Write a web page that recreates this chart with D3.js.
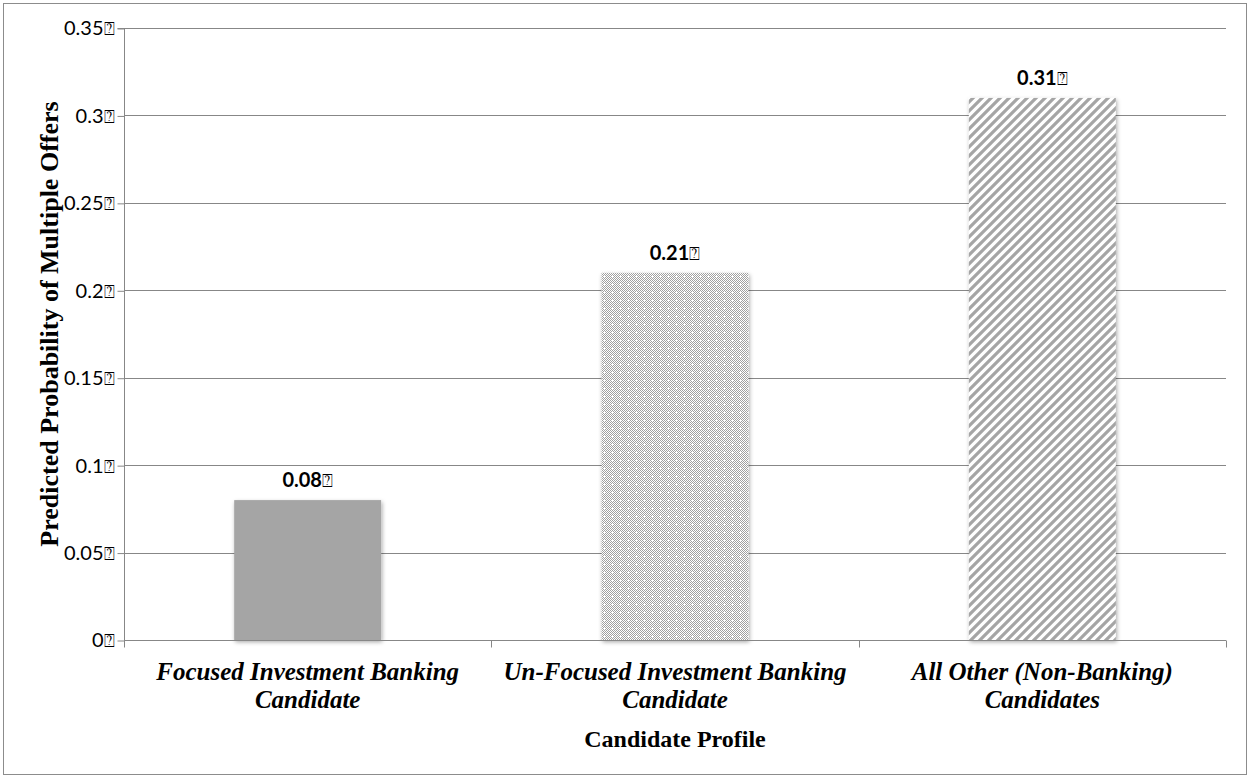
<!DOCTYPE html>
<html>
<head>
<meta charset="utf-8">
<script src="https://cdn.jsdelivr.net/npm/d3@7"></script>
<style>
  html, body { margin: 0; padding: 0; background: #ffffff; }
  svg { display: block; }
</style>
</head>
<body>
<svg id="chart" width="1250" height="777"></svg>
<script>
// Predicted probability of receiving multiple offers, by candidate profile
const categories = [
  ["Focused Investment Banking", "Candidate"],
  ["Un-Focused Investment Banking", "Candidate"],
  ["All Other (Non-Banking)", "Candidates"]
];
const values = [0.08, 0.21, 0.31];
const valueLabels = ["0.08", "0.21", "0.31"];
const tickValues = [0, 0.05, 0.1, 0.15, 0.2, 0.25, 0.3, 0.35];
const tickLabels = ["0", "0.05", "0.1", "0.15", "0.2", "0.25", "0.3", "0.35"];
const fills = ["solid", "grid", "stripes"];
const yTitle = "Predicted Probability of Multiple Offers";
const xTitle = "Candidate Profile";
const BOX = "\u2370";

const W = 1250, H = 777;
const plot = { left: 124, right: 1226, top: 28, bottom: 640 };
const GRID = "#878787";
const BAR = "#a5a5a5";
const SERIF = "'Liberation Serif', 'Times New Roman', serif";
const SANS = "Lato, 'Open Sans', sans-serif";

const svg = d3.select("#chart");
const defs = svg.append("defs");

// Soft shadow under the bars
const shadow = defs.append("filter").attr("id", "shadow")
  .attr("x", "-10%").attr("y", "-10%").attr("width", "130%").attr("height", "130%");
shadow.append("feDropShadow")
  .attr("dx", 1).attr("dy", 2).attr("stdDeviation", 2)
  .attr("flood-color", "#000").attr("flood-opacity", 0.35);

// Fine checker with white dots
const grid = defs.append("pattern").attr("id", "grid")
  .attr("patternUnits", "userSpaceOnUse").attr("width", 8).attr("height", 8);
grid.append("rect").attr("width", 8).attr("height", 8).attr("fill", "#ffffff");
for (let yy = 0; yy < 8; yy++) {
  for (let xx = 0; xx < 8; xx++) {
    if ((xx + yy) % 2 === 0) {
      grid.append("rect").attr("x", xx).attr("y", yy).attr("width", 1).attr("height", 1).attr("fill", "#a0a0a0");
    }
  }
}
grid.append("rect").attr("x", 3).attr("y", 4).attr("width", 3).attr("height", 1).attr("fill", "#ffffff");
grid.append("rect").attr("x", 4).attr("y", 3).attr("width", 1).attr("height", 3).attr("fill", "#ffffff");

// Upward diagonal stripes
const stripes = defs.append("pattern").attr("id", "stripes")
  .attr("patternUnits", "userSpaceOnUse").attr("width", 9).attr("height", 9);
stripes.append("rect").attr("width", 9).attr("height", 9).attr("fill", "#ffffff");
stripes.append("path")
  .attr("d", "M-2,2 L2,-2 M0,9 L9,0 M7,11 L11,7")
  .attr("stroke", BAR).attr("stroke-width", 3.2).attr("fill", "none");

// Outer frame
svg.append("rect")
  .attr("x", 3.5).attr("y", 3.5).attr("width", W - 7).attr("height", H - 6)
  .attr("fill", "#ffffff").attr("stroke", "#8c8c8c").attr("stroke-width", 1);

const x = d3.scaleBand()
  .domain(d3.range(categories.length))
  .range([plot.left, plot.right])
  .paddingInner(0).paddingOuter(0);

const y = d3.scaleLinear().domain([0, 0.35]).range([plot.bottom, plot.top]);

// Horizontal gridlines
svg.append("g").selectAll("line")
  .data(tickValues.filter(d => d > 0))
  .join("line")
  .attr("x1", plot.left).attr("x2", plot.right)
  .attr("y1", d => Math.round(y(d)) + 0.5).attr("y2", d => Math.round(y(d)) + 0.5)
  .attr("stroke", GRID).attr("stroke-width", 1);

// Y axis
const yAxis = d3.axisLeft(y)
  .tickValues(tickValues)
  .tickFormat((d, i) => tickLabels[i])
  .tickSize(7).tickPadding(3);
const gy = svg.append("g").attr("transform", `translate(${plot.left + 0.5},0.5)`).call(yAxis);
gy.select(".domain").attr("stroke", GRID).attr("d", `M-7,${plot.top}H0V${plot.bottom}`);
gy.selectAll(".tick line").attr("stroke", GRID);
gy.selectAll(".tick text")
  .attr("fill", "#000").attr("font-family", SANS)
  .attr("font-size", 20)
  .text(null)
  .each(function(d, i) {
    const t = d3.select(this);
    t.append("tspan").text(tickLabels[i]);
    t.append("tspan").attr("font-family", "'DejaVu Sans'").attr("font-size", 18).text(BOX);
  });

// Bars
const bandW = x.bandwidth();
const barW = bandW * 0.4;
svg.append("g").selectAll("rect")
  .data(values)
  .join("rect")
  .attr("x", (d, i) => x(i) + (bandW - barW) / 2)
  .attr("y", d => y(d))
  .attr("width", barW)
  .attr("height", d => y(0) - y(d))
  .attr("fill", (d, i) => fills[i] === "solid" ? BAR : `url(#${fills[i]})`)
  .attr("filter", "url(#shadow)");

// X axis line and category separators
const gx = svg.append("g").attr("transform", `translate(0,${plot.bottom + 0.5})`);
gx.append("line").attr("x1", plot.left).attr("x2", plot.right)
  .attr("stroke", GRID).attr("stroke-width", 1.2);
gx.selectAll("line.sep")
  .data(d3.range(categories.length + 1))
  .join("line").attr("class", "sep")
  .attr("x1", i => Math.round(plot.left + i * bandW) + 0.5)
  .attr("x2", i => Math.round(plot.left + i * bandW) + 0.5)
  .attr("y1", 0).attr("y2", 7)
  .attr("stroke", GRID).attr("stroke-width", 1);

// Value labels
svg.append("g").selectAll("text")
  .data(values)
  .join("text")
  .attr("x", (d, i) => x(i) + bandW / 2)
  .attr("y", d => y(d) - 13)
  .attr("text-anchor", "middle")
  .attr("font-family", SANS)
  .attr("font-weight", "bold").attr("font-size", 20)
  .each(function(d, i) {
    const t = d3.select(this);
    t.append("tspan").text(valueLabels[i]);
    t.append("tspan").attr("font-family", "'DejaVu Sans'").attr("font-weight", "normal").attr("font-size", 18).text(BOX);
  });

// Category labels
svg.append("g").selectAll("text")
  .data(categories)
  .join("text")
  .attr("text-anchor", "middle")
  .attr("font-family", SERIF)
  .attr("font-weight", "bold").attr("font-style", "italic").attr("font-size", 25)
  .each(function(lines, i) {
    const t = d3.select(this);
    lines.forEach((ln, j) => {
      t.append("tspan")
        .attr("x", x(i) + bandW / 2)
        .attr("y", 680 + j * 28)
        .text(ln);
    });
  });

// Axis titles
svg.append("text")
  .attr("x", (plot.left + plot.right) / 2).attr("y", 747)
  .attr("text-anchor", "middle")
  .attr("font-family", SERIF)
  .attr("font-weight", "bold").attr("font-size", 24)
  .text(xTitle);

svg.append("text")
  .attr("transform", "translate(58,324) rotate(-90)")
  .attr("text-anchor", "middle")
  .attr("font-family", SERIF)
  .attr("font-weight", "bold").attr("font-size", 26)
  .text(yTitle);
</script>
</body>
</html>
